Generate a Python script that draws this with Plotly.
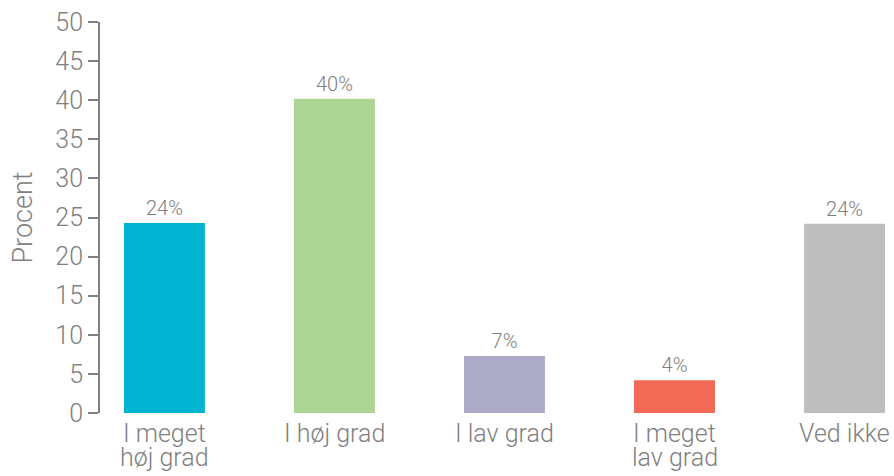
import plotly.graph_objects as go

categories = ["I meget<br>høj grad", "I høj grad", "I lav grad", "I meget<br>lav grad", "Ved ikke"]
values = [24.3, 40.2, 7.3, 4.2, 24.2]
labels = ["24%", "40%", "7%", "4%", "24%"]
colors = ["#00B3D1", "#ACD594", "#ADAAC8", "#F26A55", "#BEBEBE"]
y_ticks = [0, 5, 10, 15, 20, 25, 30, 35, 40, 45, 50]

FONT = "Roboto, 'Liberation Sans', sans-serif"
GRAY = "#808080"

fig = go.Figure(go.Bar(
    x=list(range(len(categories))),
    y=values,
    width=0.476,
    marker=dict(color=colors, line=dict(width=0)),
    text=labels,
    textposition="outside",
    textfont=dict(size=20, color=GRAY, family=FONT, weight=300),
    cliponaxis=False,
))

# category labels as annotations (tighter line spacing than plotly tick labels)
annotations = []
for i, cat in enumerate(categories):
    for j, line in enumerate(cat.split("<br>")):
        annotations.append(dict(
            x=i, xref="x", y=0, yref="paper",
            text=line, showarrow=False,
            xanchor="center", yanchor="middle",
            yshift=-20 - 24 * j,
            font=dict(size=25, color=GRAY, family=FONT, weight=300),
        ))

fig.update_layout(
    width=894, height=476,
    margin=dict(l=100, r=0, t=22, b=63),
    paper_bgcolor="white", plot_bgcolor="white",
    showlegend=False,
    font=dict(family=FONT, color=GRAY, weight=300),
    annotations=annotations,
    xaxis=dict(
        range=[-0.379, 4.291],
        automargin=False,
        tickmode="array",
        tickvals=list(range(len(categories))),
        showticklabels=False,
        showgrid=False, zeroline=False, showline=False,
        ticks="",
    ),
    yaxis=dict(
        range=[0, 50],
        automargin=False,
        tickmode="array",
        tickvals=y_ticks,
        showgrid=False, zeroline=False,
        showline=True, linecolor=GRAY, linewidth=2,
        ticks="outside", ticklen=10, tickwidth=2, tickcolor=GRAY,
        tickfont=dict(size=25, color=GRAY, family=FONT, weight=300),
        title=dict(text="Procent", font=dict(size=27, color=GRAY, family=FONT, weight=300), standoff=15),
    ),
)

fig.write_html("out.html", config={"displayModeBar": False},
               post_script="document.body.style.margin='0';")
